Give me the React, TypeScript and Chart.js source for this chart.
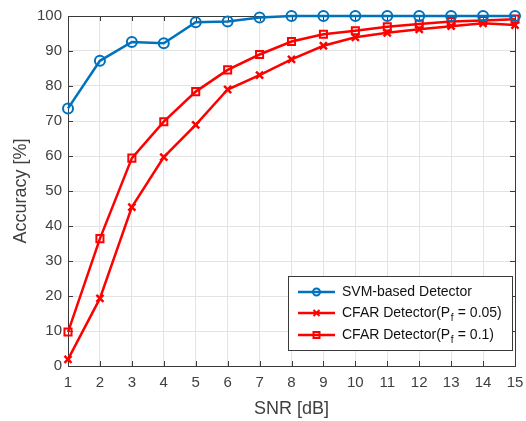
import React, { useEffect, useRef } from "react";
import { Chart, registerables } from "chart.js";

Chart.register(...registerables);

const snr = [1, 2, 3, 4, 5, 6, 7, 8, 9, 10, 11, 12, 13, 14, 15];
const svmAcc = [73.6, 87.2, 92.6, 92.2, 98.2, 98.4, 99.6, 100, 100, 100, 100, 100, 100, 100, 100];
const cfar005 = [1.9, 19.3, 45.4, 59.7, 68.9, 79.0, 83.1, 87.6, 91.5, 93.9, 95.2, 96.2, 97.1, 97.9, 97.4];
const cfar01 = [9.7, 36.4, 59.4, 69.8, 78.4, 84.6, 89.0, 92.7, 94.8, 95.8, 96.9, 97.7, 98.4, 98.7, 99.1];
const yTicks = [0, 10, 20, 30, 40, 50, 60, 70, 80, 90, 100];

const BLUE = "#0072BD";
const RED = "#FF0000";
const AXIS = "#3a3a3a";
const TEXT = "#404040";
const FONT = "'Liberation Sans', Arial, Helvetica, sans-serif";

const legendItems = [
  { label: "SVM-based Detector", sub: null as null | { pre: string; sub: string; post: string }, color: BLUE, style: "circle" },
  { label: "", sub: { pre: "CFAR Detector(P", sub: "f", post: " = 0.05)" }, color: RED, style: "cross" },
  { label: "", sub: { pre: "CFAR Detector(P", sub: "f", post: " = 0.1)" }, color: RED, style: "rect" },
];

function drawMarker(ctx: CanvasRenderingContext2D, style: string, x: number, y: number, r: number) {
  ctx.beginPath();
  if (style === "circle") {
    ctx.arc(x, y, r, 0, Math.PI * 2);
  } else if (style === "rect") {
    ctx.rect(x - r, y - r, 2 * r, 2 * r);
  } else {
    ctx.moveTo(x - r, y - r);
    ctx.lineTo(x + r, y + r);
    ctx.moveTo(x + r, y - r);
    ctx.lineTo(x - r, y + r);
  }
  ctx.stroke();
}

const boxPlugin = {
  id: "matlabBox",
  beforeDatasetsDraw(chart: any) {
    const ctx: CanvasRenderingContext2D = chart.ctx;
    const a = chart.chartArea;
    const xs = chart.scales.x;
    const ys = chart.scales.y;
    ctx.save();
    ctx.strokeStyle = AXIS;
    ctx.lineWidth = 1;
    ctx.beginPath();
    for (const v of snr) {
      const px = Math.round(xs.getPixelForValue(v)) + 0.5;
      ctx.moveTo(px, a.bottom);
      ctx.lineTo(px, a.bottom - 5);
      ctx.moveTo(px, a.top);
      ctx.lineTo(px, a.top + 5);
    }
    for (const v of yTicks) {
      const py = Math.round(ys.getPixelForValue(v)) + 0.5;
      ctx.moveTo(a.left, py);
      ctx.lineTo(a.left + 5, py);
      ctx.moveTo(a.right, py);
      ctx.lineTo(a.right - 5, py);
    }
    ctx.stroke();
    ctx.strokeRect(Math.round(a.left) + 0.5, Math.round(a.top) + 0.5, Math.round(a.right - a.left), Math.round(a.bottom - a.top));
    ctx.restore();
  },
  afterDraw(chart: any) {
    const ctx: CanvasRenderingContext2D = chart.ctx;
    ctx.save();
    const lx = 288, ly = 276, lw = 224, lh = 74;
    ctx.fillStyle = "#ffffff";
    ctx.fillRect(lx, ly, lw, lh);
    ctx.strokeStyle = AXIS;
    ctx.lineWidth = 1;
    ctx.strokeRect(lx + 0.5, ly + 0.5, lw, lh);
    const rows = [292, 313, 335];
    legendItems.forEach((it, i) => {
      const y = rows[i];
      ctx.strokeStyle = it.color;
      ctx.lineWidth = 2.5;
      ctx.beginPath();
      ctx.moveTo(298, y);
      ctx.lineTo(335, y);
      ctx.stroke();
      ctx.lineWidth = 2;
      drawMarker(ctx, it.style, 316.5, y, it.style === "circle" ? 3.5 : 3);
      ctx.fillStyle = "#111111";
      ctx.textBaseline = "middle";
      ctx.textAlign = "left";
      ctx.font = `14px ${FONT}`;
      let tx = 342;
      if (!it.sub) {
        ctx.fillText(it.label, tx, y);
      } else {
        ctx.fillText(it.sub.pre, tx, y);
        tx += ctx.measureText(it.sub.pre).width;
        ctx.font = `10px ${FONT}`;
        ctx.fillText(it.sub.sub, tx + 0.5, y + 5);
        tx += ctx.measureText(it.sub.sub).width + 1;
        ctx.font = `14px ${FONT}`;
        ctx.fillText(it.sub.post, tx, y);
      }
    });
    ctx.restore();
  },
};

export default function App() {
  const ref = useRef<HTMLCanvasElement>(null);
  useEffect(() => {
    document.body.style.margin = "0";
    const ctx = ref.current!.getContext("2d")!;
    const mk = (vals: number[]) => vals.map((v, i) => ({ x: snr[i], y: v }));
    const chart = new Chart(ctx, {
      type: "line",
      data: {
        datasets: [
          {
            label: "SVM-based Detector",
            data: mk(svmAcc),
            borderColor: BLUE,
            backgroundColor: "rgba(0,0,0,0)",
            borderWidth: 2.5,
            pointStyle: "circle",
            pointRadius: 5,
            pointBorderWidth: 2,
            pointBorderColor: BLUE,
            pointBackgroundColor: "rgba(0,0,0,0)",
            clip: false,
          },
          {
            label: "CFAR Detector(Pf = 0.05)",
            data: mk(cfar005),
            borderColor: RED,
            backgroundColor: "rgba(0,0,0,0)",
            borderWidth: 2.5,
            pointStyle: "crossRot",
            pointRadius: 5,
            pointBorderWidth: 2.5,
            pointBorderColor: RED,
            clip: false,
          },
          {
            label: "CFAR Detector(Pf = 0.1)",
            data: mk(cfar01),
            borderColor: RED,
            backgroundColor: "rgba(0,0,0,0)",
            borderWidth: 2.5,
            pointStyle: "rect",
            pointRadius: 5,
            pointBorderWidth: 2,
            pointBorderColor: RED,
            pointBackgroundColor: "rgba(0,0,0,0)",
            clip: false,
          },
        ],
      },
      options: {
        animation: false,
        responsive: false,
        devicePixelRatio: 1,
        layout: { padding: { top: 16, right: 11, left: 0, bottom: 0 } },
        plugins: { legend: { display: false }, tooltip: { enabled: false } },
        scales: {
          x: {
            type: "linear",
            min: 1,
            max: 15,
            afterFit: (s: any) => { s.height = 55; s.paddingLeft = 0; s.paddingRight = 0; },
            ticks: { stepSize: 1, color: TEXT, padding: 8, font: { family: FONT, size: 15 } },
            grid: { color: "#e3e3e3", drawTicks: false, lineWidth: 1 },
            border: { display: false },
            title: { display: true, text: "SNR [dB]", color: TEXT, font: { family: FONT, size: 18 }, padding: { top: 0, bottom: 1 } },
          },
          y: {
            type: "linear",
            min: 0,
            max: 100,
            afterFit: (s: any) => { s.width = 68; s.paddingTop = 0; s.paddingBottom = 0; },
            ticks: { stepSize: 10, color: TEXT, padding: 6, font: { family: FONT, size: 15 } },
            grid: { color: "#e3e3e3", drawTicks: false, lineWidth: 1 },
            border: { display: false },
            title: { display: true, text: "Accuracy [%]", color: TEXT, font: { family: FONT, size: 18 }, padding: { top: 10, bottom: 0 } },
          },
        },
      } as any,
      plugins: [boxPlugin],
    });
    return () => chart.destroy();
  }, []);
  return (
    <div style={{ width: 526, height: 421 }}>
      <canvas ref={ref} width={526} height={421} style={{ display: "block" }} />
    </div>
  );
}
